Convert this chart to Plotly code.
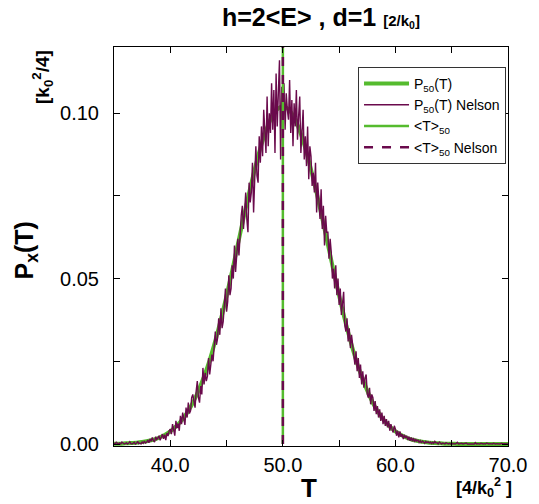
import numpy as np
import plotly.graph_objects as go

# ---- data (values in units of 1e-4) ----
smooth_x0, smooth_step = 35.0, 0.5
p50_e4 = [1, 1, 2, 3, 4, 6, 9, 13, 19, 27, 38, 53, 71, 95, 124, 161, 204, 254, 312, 377,
          448, 524, 603, 682, 759, 830, 894, 947, 987, 1012, 1020,
          1012, 987, 947, 894, 830, 759, 682, 603, 524, 448, 377, 312, 254, 204, 161, 124,
          95, 71, 53, 38, 27, 19, 13, 9, 6, 4, 3, 2, 1, 1,
          0, 0, 0, 0, 0, 0, 0, 0, 0, 0]

nelson_x0, nelson_step = 35.0, 0.1
nelson_e4 = (
    [2, 0, 5, 1, 0, 3, 0, 6, 2, 0, 1, 4, 0, 2, 7, 1, 0, 3, 5, 0, 2, 8, 1, 3, 0, 6, 2, 9, 3, 5]
    + [12, 4, 15, 8, 20, 10, 6, 22, 14, 18, 25, 11, 19, 30, 16, 28, 12, 33, 24, 40]
    + [45, 30, 60, 38, 25, 70, 48, 62, 40, 85, 60, 95, 72, 58, 110, 80, 125, 92, 100, 140]
    + [150, 135, 110, 160, 190, 140, 125, 175, 150, 230, 180, 215, 190, 205, 260, 210, 240, 270, 250, 300]
    + [340, 300, 320, 380, 330, 410, 350, 370, 420, 470, 400, 430, 510, 450, 470, 540, 500, 600, 520, 560]
    + [620, 570, 650, 690, 720, 650, 700, 760, 680, 640, 790, 730, 760, 850, 700, 820, 900, 810, 790, 930]
    + [850, 960, 870, 1010, 930, 880, 1050, 900, 1000, 940, 1090, 950, 1070, 880, 1120, 960, 1060, 1160, 860, 1080]
    + [1000, 1090, 950, 1060, 1010, 980, 1100, 940, 1040, 900, 1030, 960, 1070, 920, 990, 1050, 880, 960, 1010, 860]
    + [930, 840, 960, 800, 900, 870, 780, 820, 760, 850, 700, 790, 740, 680, 770, 650, 720, 600, 690, 640]
    + [640, 560, 620, 580, 500, 530, 470, 540, 450, 500, 420, 470, 390, 440, 460, 360, 340, 380, 310, 350]
    + [290, 330, 300, 260, 240, 280, 220, 260, 200, 240, 180, 220, 170, 200, 210, 150, 140, 170, 120, 150]
    + [140, 100, 130, 90, 115, 80, 105, 70, 95, 60, 85, 55, 75, 50, 70, 40, 60, 45, 35, 55]
    + [45, 25, 40, 20, 38, 22, 30, 15, 28, 18, 25, 12, 22, 10, 20, 8, 18, 6, 15, 9]
    + [12, 5, 10, 3, 9, 6, 2, 8, 4, 7, 3, 6, 1, 5, 2, 8, 3, 4, 0, 6]
    + [2, 0, 3, 1, 0, 4, 1, 0, 2, 0, 3, 0, 1, 0, 2, 5, 0, 1, 0, 2,
       0, 1, 0, 3, 0, 0, 1, 0, 2, 0, 0, 4, 0, 1, 0, 0, 2, 0, 0, 1,
       0, 3, 0, 0, 1, 0, 0, 2, 0, 0, 1, 0, 0, 0, 2, 0, 0, 1, 0, 0, 0]
)

t_mean = 50.0
t_mean_nelson = 50.0

x_ticks = [35, 40, 45, 50, 55, 60, 65, 70]
x_ticktext = ["", "40.0", "", "50.0", "", "60.0", "", "70.0"]
y_ticks = [0.0, 0.025, 0.05, 0.075, 0.10]
y_ticktext = ["0.00", "", "0.05", "", "0.10"]

Y_MAX = 0.12

# ---- build ----
sx = smooth_x0 + smooth_step * np.arange(len(p50_e4))
sy = np.array(p50_e4) / 1e4
nx = nelson_x0 + nelson_step * np.arange(len(nelson_e4))
ny = np.array(nelson_e4) / 1e4

GREEN = "#55bb2e"
PURPLE = "#6a0a4c"
FONT = "Liberation Sans, Arial, sans-serif"

fig = go.Figure()
fig.add_trace(go.Scatter(x=sx, y=sy, mode="lines", line=dict(color=GREEN, width=4, shape="spline"),
                         name="P<sub>50</sub>(T)"))
fig.add_trace(go.Scatter(x=nx, y=ny, mode="lines", line=dict(color=PURPLE, width=1.4),
                         name="P<sub>50</sub>(T) Nelson"))
fig.add_trace(go.Scatter(x=[t_mean, t_mean], y=[0, Y_MAX], mode="lines",
                         line=dict(color=GREEN, width=2.5), name="&lt;T&gt;<sub>50</sub>"))
fig.add_trace(go.Scatter(x=[t_mean_nelson, t_mean_nelson], y=[0, Y_MAX], mode="lines",
                         line=dict(color=PURPLE, width=2.5, dash="dash"),
                         name="&lt;T&gt;<sub>50</sub> Nelson"))

axis_common = dict(showline=True, linecolor="black", linewidth=1, mirror="ticks",
                   ticks="inside", ticklen=6, tickcolor="black", tickwidth=1,
                   showgrid=False, zeroline=False,
                   tickfont=dict(family=FONT, size=20, color="black"))

fig.update_xaxes(range=[35, 70], tickvals=x_ticks, ticktext=x_ticktext,
                 ticklabelstandoff=1, **axis_common)
fig.update_yaxes(range=[-0.0006, Y_MAX], tickvals=y_ticks, ticktext=y_ticktext,
                 ticklabelstandoff=10, **axis_common)

# page body adds an 8px margin, so the figure is 8px smaller and margins are shifted
fig.update_layout(
    width=531, height=496,
    margin=dict(l=106, r=25, t=39, b=58),
    paper_bgcolor="white", plot_bgcolor="white",
    font=dict(family=FONT, color="black"),
    showlegend=True,
    legend=dict(x=0.995, xanchor="right", y=0.95, yanchor="top",
                bgcolor="white", bordercolor="#333", borderwidth=1,
                font=dict(family=FONT, size=14, color="black"),
                itemwidth=45, tracegroupgap=0),
    annotations=[
        dict(text="<b>h=2&lt;E&gt; , d=1 <span style='font-size:15px'>[2/k<sub>0</sub>]</span></b>",
             xref="paper", yref="paper", x=0.27, y=1.075, xanchor="left", yanchor="middle",
             showarrow=False, font=dict(family=FONT, size=25, color="black")),
        dict(text="<b>P<sub>x</sub>(T)</b>", xref="paper", yref="paper", x=-0.2225, y=0.491,
             textangle=-90, showarrow=False, xanchor="center", yanchor="middle",
             font=dict(family=FONT, size=25, color="black")),
        dict(text="<b>[k<sub>0</sub><sup>2</sup>/4]</b>", xref="paper", yref="paper", x=-0.18, y=0.925,
             textangle=-90, showarrow=False, xanchor="center", yanchor="middle",
             font=dict(family=FONT, size=19, color="black")),
        dict(text="<b>T</b>", xref="paper", yref="paper", x=0.495, y=-0.105,
             showarrow=False, xanchor="center", yanchor="middle",
             font=dict(family=FONT, size=26, color="black")),
        dict(text="<b>[4/k<sub>0</sub><sup>2</sup> ]</b>", xref="paper", yref="paper", x=0.94, y=-0.105,
             showarrow=False, xanchor="center", yanchor="middle",
             font=dict(family=FONT, size=18, color="black")),
    ],
)

fig.write_html("out.html")
